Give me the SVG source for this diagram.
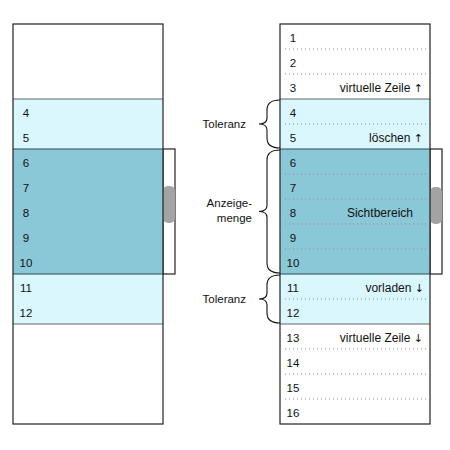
<svg xmlns="http://www.w3.org/2000/svg" width="450" height="450" viewBox="0 0 450 450">
<style>
.num{font-family:"Liberation Sans",Arial,sans-serif;font-size:11.5px;fill:#111;text-anchor:middle}
.lbl{font-family:"Liberation Sans",Arial,sans-serif;font-size:11.5px;fill:#111}
.rl{font-size:12px}
.ar{font-family:"DejaVu Sans",sans-serif;font-size:11px}
.end{text-anchor:end}
.light{fill:#daf7fd}
.dark{fill:#8ac7d7}
.frame{fill:none;stroke:#222;stroke-width:1.2}
.sep{stroke:#666;stroke-width:1}
.dsep{stroke:#2c4c55;stroke-width:1.2}
.dots{stroke:#8a8a8a;stroke-width:1;stroke-dasharray:1 3}
.sbox{fill:#fff;stroke:#222;stroke-width:1.2}
.thumb{fill:#a3a3a3}
.brace{fill:none;stroke:#111;stroke-width:1.1}
</style>
<rect width="450" height="450" fill="#fff"/>
<g id="left-panel">
<rect x="163" y="149" width="12" height="125" class="sbox"/>
<rect x="163" y="186" width="12" height="37" rx="5" class="thumb"/>
<rect x="13" y="24" width="150" height="400" fill="#fff"/>
<rect x="13" y="99" width="150" height="50" class="light"/>
<rect x="13" y="149" width="150" height="125" class="dark"/>
<rect x="13" y="274" width="150" height="50" class="light"/>
<line x1="13" y1="99" x2="163" y2="99" class="sep"/>
<line x1="13" y1="324" x2="163" y2="324" class="sep"/>
<line x1="13" y1="149" x2="163" y2="149" class="dsep"/>
<line x1="13" y1="274" x2="163" y2="274" class="dsep"/>
<rect x="13" y="24" width="150" height="400" class="frame"/>
<text x="26" y="116.5" class="num">4</text>
<text x="26" y="141.5" class="num">5</text>
<text x="26" y="166.5" class="num">6</text>
<text x="26" y="191.5" class="num">7</text>
<text x="26" y="216.5" class="num">8</text>
<text x="26" y="241.5" class="num">9</text>
<text x="26" y="266.5" class="num">10</text>
<text x="26" y="291.5" class="num">11</text>
<text x="26" y="316.5" class="num">12</text>
</g>
<g id="right-panel">
<rect x="430" y="149" width="12" height="125" class="sbox"/>
<rect x="430" y="187" width="12" height="37" rx="5" class="thumb"/>
<rect x="280" y="24" width="150" height="400" fill="#fff"/>
<rect x="280" y="99" width="150" height="50" class="light"/>
<rect x="280" y="149" width="150" height="125" class="dark"/>
<rect x="280" y="274" width="150" height="50" class="light"/>
<g class="dots">
<line x1="285" y1="49" x2="428" y2="49"/>
<line x1="285" y1="74" x2="428" y2="74"/>
<line x1="285" y1="124" x2="428" y2="124"/>
<line x1="285" y1="174" x2="428" y2="174"/>
<line x1="285" y1="199" x2="428" y2="199"/>
<line x1="285" y1="224" x2="428" y2="224"/>
<line x1="285" y1="249" x2="428" y2="249"/>
<line x1="285" y1="299" x2="428" y2="299"/>
<line x1="285" y1="349" x2="428" y2="349"/>
<line x1="285" y1="374" x2="428" y2="374"/>
<line x1="285" y1="399" x2="428" y2="399"/>
</g>
<line x1="280" y1="99" x2="430" y2="99" class="sep"/>
<line x1="280" y1="324" x2="430" y2="324" class="sep"/>
<line x1="280" y1="149" x2="430" y2="149" class="dsep"/>
<line x1="280" y1="274" x2="430" y2="274" class="dsep"/>
<rect x="280" y="24" width="150" height="400" class="frame"/>
<text x="293" y="41.5" class="num">1</text>
<text x="293" y="66.5" class="num">2</text>
<text x="293" y="91.5" class="num">3</text>
<text x="293" y="116.5" class="num">4</text>
<text x="293" y="141.5" class="num">5</text>
<text x="293" y="166.5" class="num">6</text>
<text x="293" y="191.5" class="num">7</text>
<text x="293" y="216.5" class="num">8</text>
<text x="293" y="241.5" class="num">9</text>
<text x="293" y="266.5" class="num">10</text>
<text x="293" y="291.5" class="num">11</text>
<text x="293" y="316.5" class="num">12</text>
<text x="293" y="341.5" class="num">13</text>
<text x="293" y="366.5" class="num">14</text>
<text x="293" y="391.5" class="num">15</text>
<text x="293" y="416.5" class="num">16</text>
<text x="423" y="91.5" class="lbl rl end">virtuelle Zeile <tspan class="ar">↑</tspan></text>
<text x="423" y="141.5" class="lbl rl end">löschen <tspan class="ar">↑</tspan></text>
<text x="413" y="216.5" class="lbl rl end">Sichtbereich</text>
<text x="424" y="291.5" class="lbl rl end">vorladen <tspan class="ar">↓</tspan></text>
<text x="423" y="341.5" class="lbl rl end">virtuelle Zeile <tspan class="ar">↓</tspan></text>
</g>
<g id="connectors">
<path class="brace" d="M280,100 Q267,100 267,110 L267,118 Q267,124 259,124 Q267,124 267,130 L267,138 Q267,148 280,148"/>
<path class="brace" d="M280,150 Q267,150 267,160 L267,205.5 Q267,211.5 259,211.5 Q267,211.5 267,217.5 L267,263 Q267,273 280,273"/>
<path class="brace" d="M280,275 Q267,275 267,285 L267,293 Q267,299 259,299 Q267,299 267,305 L267,313 Q267,323 280,323"/>
</g>
<g id="label-toleranz-1"><text x="246" y="128" class="lbl end">Toleranz</text></g>
<g id="label-anzeigemenge"><text x="252" y="207" class="lbl end">Anzeige-</text><text x="252" y="222" class="lbl end">menge</text></g>
<g id="label-toleranz-2"><text x="246" y="303" class="lbl end">Toleranz</text></g>
</svg>
